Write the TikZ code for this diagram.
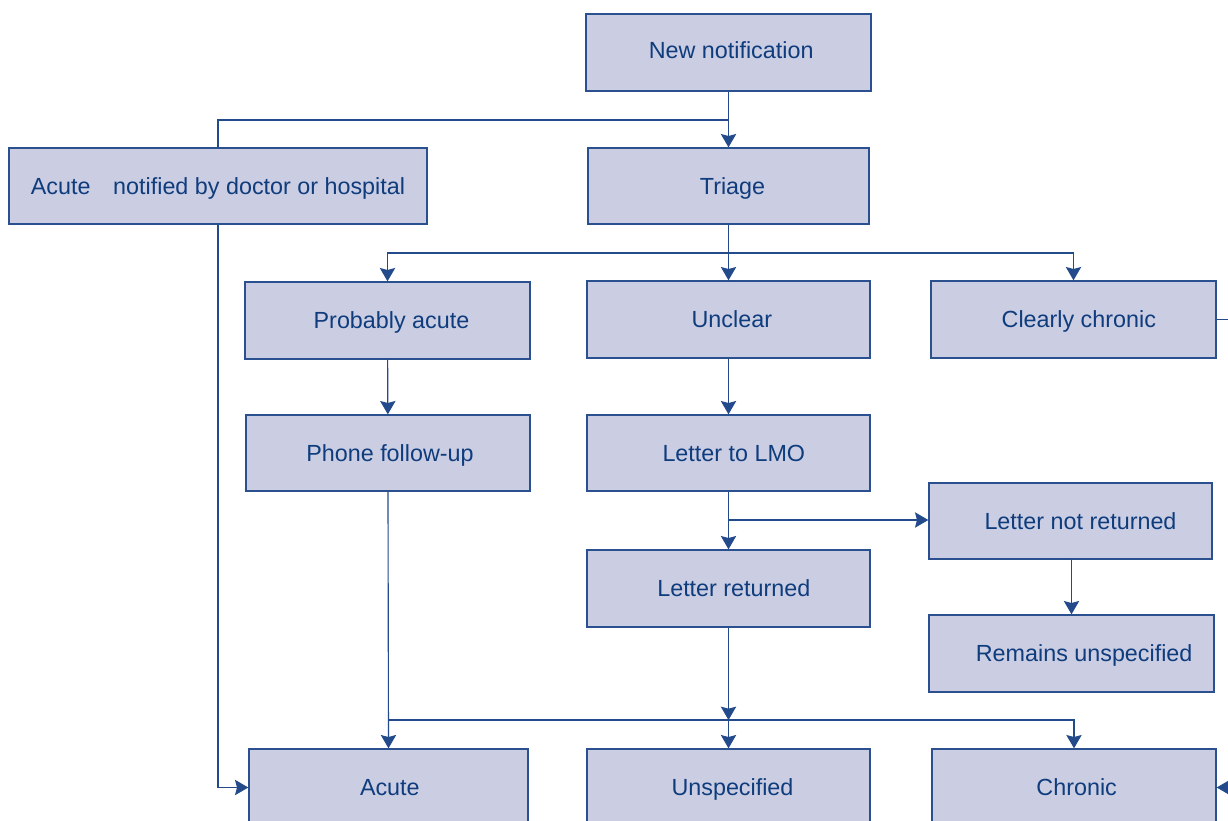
\documentclass[tikz,border=0pt]{standalone}
\usepackage{fontspec}
\setmainfont{Liberation Sans}
\usetikzlibrary{arrows.meta}
\definecolor{boxfill}{HTML}{CBCDE3}
\definecolor{boxline}{HTML}{2A5090}
\definecolor{txt}{HTML}{0E3C7C}
\definecolor{conn}{HTML}{234A8A}
\begin{document}
\begin{tikzpicture}[x=0.75pt,y=-0.75pt,
  bx/.style={draw=boxline, line width=1pt, fill=boxfill, text=txt, inner sep=0pt,
    font=\fontsize{17.5}{21}\selectfont, minimum height=77*0.75pt,
    text height=12.5pt, text depth=0pt},
  conn/.style={draw=conn, line width=0.85pt},
  arr/.style={conn, -{Stealth[length=10pt,width=11.5pt,inset=1.5pt]}}]
\useasboundingbox (0,0) rectangle (1228,821);
\clip (0,0) rectangle (1228,821);
% nodes
\node[bx, minimum width=285*0.75pt] (nn) at (728.5,52.5) {\raisebox{2pt}{\hspace*{4pt}New notification}};
\node[bx, minimum width=281*0.75pt, minimum height=76*0.75pt] (tri) at (728.5,186) {\hspace*{6pt}Triage};
\node[bx, minimum width=418*0.75pt, minimum height=76*0.75pt] (acn) at (218,186) {Acute\hspace{17pt}notified by doctor or hospital};
\node[bx, minimum width=285*0.75pt] (pa) at (387.5,320.5) {\hspace*{6pt}Probably acute};
\node[bx, minimum width=283*0.75pt] (unc) at (728.5,319.5) {\hspace*{5pt}Unclear};
\node[bx, minimum width=285*0.75pt] (cc) at (1073.5,319.5) {\hspace*{8pt}Clearly chronic};
\node[bx, minimum width=284*0.75pt, minimum height=76*0.75pt] (pf) at (388,453) {\hspace*{3pt}Phone follow-up};
\node[bx, minimum width=283*0.75pt, minimum height=76*0.75pt] (lmo) at (728.5,453) {\hspace*{8pt}Letter to LMO};
\node[bx, minimum width=283*0.75pt, minimum height=76*0.75pt] (lnr) at (1070.5,521) {\hspace*{15pt}Letter not returned};
\node[bx, minimum width=283*0.75pt] (lr) at (728.5,588.5) {\hspace*{8pt}Letter returned};
\node[bx, minimum width=285*0.75pt] (ru) at (1071.5,653.5) {\hspace*{19pt}Remains unspecified};
\node[bx, minimum width=279*0.75pt] (acute) at (388.5,787.5) {\hspace*{2pt}Acute};
\node[bx, minimum width=283*0.75pt] (unsp) at (728.5,787.5) {\hspace*{6pt}Unspecified};
\node[bx, minimum width=284*0.75pt] (chr) at (1074,787.5) {\hspace*{4pt}Chronic};
% junctions
\coordinate (j1) at (728.5,120);
\coordinate (j2) at (728.5,253);
\coordinate (j3) at (728.5,520);
\coordinate (j4) at (728.5,720);
\coordinate (j5) at (388,720);
\coordinate (jr) at (1260,400);
% connectors
\draw[arr] (nn) -- (tri);
\draw[conn] (j1) -| (acn.north);
\draw[conn] (tri.south) -- (j2);
\draw[arr] (j2) -| (pa.north);
\draw[arr] (j2) -- (unc.north);
\draw[arr] (j2) -| (cc.north);
\draw[arr] (pa) -- (pf);
\draw[arr] (unc) -- (lmo);
\draw[arr] (lmo) -- (lr);
\draw[arr] (j3) -- (lnr.west |- j3);
\draw[arr] (lnr.south -| ru.north) -- (ru.north);
\draw[arr] (lr.south) -- (j4);
\draw[arr] (j4) -- (unsp.north);
\draw[arr] (pf.south) -- (acute.north);
\draw[arr] (j5) -| (chr.north);
\draw[arr] (acn.south) |- (acute.west);
\draw[arr] (cc.east) -| (jr) |- (chr.east);
\end{tikzpicture}
\end{document}
